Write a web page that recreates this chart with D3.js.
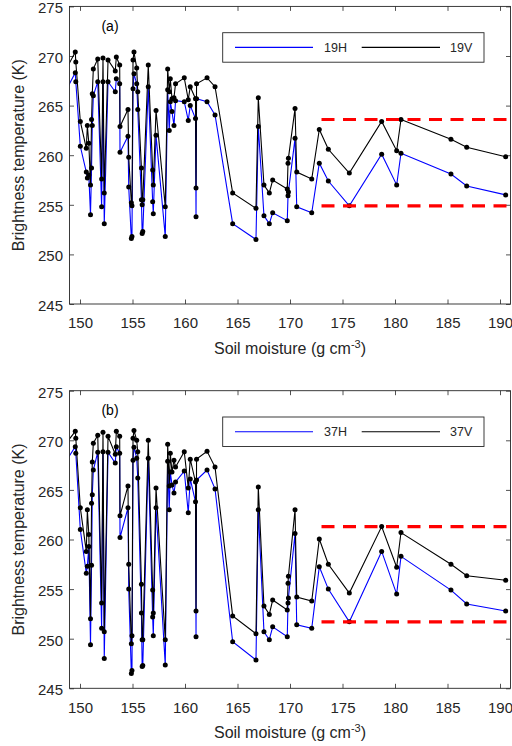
<!DOCTYPE html>
<html>
<head>
<meta charset="utf-8">
<script src="https://cdn.jsdelivr.net/npm/d3@7"></script>
<style>
  body { margin: 0; background: #fff; }
  svg { display: block; }
  text { font-family: "Liberation Sans", Arial, Helvetica, sans-serif; }
</style>
</head>
<body>
<svg id="chart" width="512" height="746"></svg>
<script>
// Soil moisture of each sample (sorted), shared by both frequency panels
const soilMoisture = [148.6, 149.55, 149.6, 150.03, 150.6, 150.7, 150.84, 151.0, 151.1, 151.17,
  151.27, 151.69, 152.06, 152.19, 152.31, 152.67, 153.36, 153.46, 153.78, 153.81,
  154.57, 154.64, 154.89, 154.95, 155.05, 155.14, 155.4, 155.5, 155.85, 155.92,
  155.98, 156.5, 156.92, 156.98, 157.24, 158.12, 158.35, 158.5, 158.6, 158.76,
  158.95, 159.1, 159.93, 160.31, 160.5, 161.0, 161.05, 161.1, 162.1, 162.86,
  164.54, 166.76, 166.98, 167.52, 168.03, 168.35, 169.74, 169.81, 169.85, 170.48,
  170.64, 172.07, 172.79, 173.65, 175.65, 178.73, 180.16, 180.57, 185.33, 186.83, 190.54];

// Brightness temperatures (K)
const tb19H = [266.4, 268.3, 267.4, 260.9, 258.3, 257.7, 258.0, 254.0, 258.7, 263.0,
  266.0, 267.4, 254.8, 267.4, 253.1, 267.4, 266.4, 267.7, 267.2, 260.3,
  261.9, 256.8, 251.6, 251.8, 266.7, 268.2, 267.2, 264.6, 255.5, 252.1,
  252.3, 266.9, 255.3, 254.1, 262.0, 251.8, 266.6, 262.5, 265.4, 264.4,
  263.0, 265.5, 265.4, 263.5, 265.0, 263.7, 253.8, 265.7, 265.4, 264.05,
  253.1, 251.5, 262.9, 253.9, 253.1, 254.2, 253.4, 255.9, 256.3, 261.7,
  254.8, 254.2, 259.2, 257.4, 254.9, 260.1, 257.0, 260.2, 258.1, 256.9, 256.0];
const tb19V = [268.5, 270.4, 269.4, 263.4, 260.7, 263.0, 261.2, 257.0, 263.6, 266.2,
  268.7, 269.7, 257.6, 269.8, 256.2, 269.6, 268.5, 269.9, 269.1, 262.9,
  264.6, 259.8, 255.2, 254.9, 269.6, 270.4, 268.8, 266.4, 258.7, 255.0,
  255.5, 269.1, 258.5, 257.0, 264.5, 254.8, 268.7, 266.4, 267.7, 265.7,
  265.8, 267.2, 267.8, 265.6, 266.9, 265.7, 256.7, 267.2, 267.8, 266.9,
  256.2, 254.65, 265.8, 257.0, 256.2, 257.5, 256.6, 259.2, 259.7, 264.7,
  258.3, 257.6, 262.6, 260.6, 258.2, 263.4, 260.45, 263.6, 261.6, 260.8, 259.85];
const tb37H = [267.8, 269.35, 268.7, 261.0, 256.6, 257.3, 259.3, 249.4, 257.4, 264.5,
  267.0, 268.8, 251.05, 268.85, 248.0, 268.8, 267.7, 269.35, 268.7, 260.2,
  263.2, 255.0, 246.5, 246.8, 268.0, 269.3, 268.2, 266.2, 252.6, 247.2,
  247.3, 268.2, 252.2, 250.3, 263.2, 247.35, 267.9, 263.0, 266.8, 265.5,
  264.7, 265.8, 266.9, 262.7, 266.1, 263.8, 250.2, 266.0, 267.0, 265.1,
  249.7, 247.85, 263.0, 250.7, 249.9, 251.2, 250.2, 253.6, 254.1, 260.6,
  251.4, 251.05, 257.25, 255.0, 251.7, 258.8, 254.5, 258.3, 254.9, 253.5, 252.8];
const tb37V = [269.6, 270.9, 270.2, 263.2, 258.8, 263.0, 260.5, 252.0, 263.65, 267.8,
  269.7, 270.5, 253.6, 270.8, 250.7, 270.4, 268.6, 270.9, 270.4, 262.4,
  265.4, 257.5, 249.5, 250.3, 270.2, 271.0, 270.0, 268.85, 255.5, 249.9,
  249.9, 270.0, 254.9, 252.6, 265.2, 249.9, 269.6, 265.4, 268.7, 266.8,
  268.0, 267.3, 268.85, 265.2, 268.1, 265.8, 252.8, 268.1, 268.9, 267.3,
  252.3, 250.5, 265.3, 253.3, 252.45, 253.9, 252.9, 255.6, 256.3, 263.0,
  254.2, 253.8, 260.05, 257.5, 254.6, 261.3, 257.2, 260.7, 257.5, 256.35, 255.9];

const xTicks = [150, 155, 160, 165, 170, 175, 180, 185, 190];
const yTicks = [245, 250, 255, 260, 265, 270, 275];
const panelTags = ["(a)", "(b)"];
const seriesNames = [["19H", "19V"], ["37H", "37V"]];
// Wet-sample envelope: samples taken into account, and where its lines begin
const envelopeSelect = 172.5;
const envelopeFrom = 173;

const svg = d3.select("#chart");
const axisColor = "#262626";
const hColor = "#0000ff";
const vColor = "#000000";

const x = d3.scaleLinear().domain([149, 191]).range([69.5, 510.5]);

const panels = [
  { tag: panelTags[0], H: tb19H, V: tb19V, names: seriesNames[0], top: 6.4, bottom: 304 },
  { tag: panelTags[1], H: tb37H, V: tb37V, names: seriesNames[1], top: 390.7, bottom: 688.3 }
];

panels.forEach((p, pi) => {
  const y = d3.scaleLinear().domain([245, 275]).range([p.bottom, p.top]);
  const [x0, x1] = x.range();
  const g = svg.append("g");

  const clipId = "clip" + pi;
  svg.append("clipPath").attr("id", clipId)
    .append("rect").attr("x", x0).attr("y", p.top).attr("width", x1 - x0).attr("height", p.bottom - p.top);

  // axes with inward ticks on all four sides
  const tickLen = 4.5;
  const axB = g.append("g").attr("transform", `translate(0,${p.bottom})`)
    .call(d3.axisBottom(x).tickValues(xTicks).tickSizeInner(-tickLen).tickSizeOuter(0).tickPadding(13.6));
  const axT = g.append("g").attr("transform", `translate(0,${p.top})`)
    .call(d3.axisTop(x).tickValues(xTicks).tickSizeInner(-tickLen).tickSizeOuter(0).tickFormat(""));
  const axL = g.append("g").attr("transform", `translate(${x0},0)`)
    .call(d3.axisLeft(y).tickValues(yTicks).tickSizeInner(-tickLen).tickSizeOuter(0).tickPadding(6.5));
  const axR = g.append("g").attr("transform", `translate(${x1},0)`)
    .call(d3.axisRight(y).tickValues(yTicks).tickSizeInner(-tickLen).tickSizeOuter(0).tickFormat(""));
  [axB, axT, axL, axR].forEach(a => {
    a.select(".domain").remove();
    a.selectAll("line").attr("stroke", axisColor).attr("stroke-width", 0.8);
    a.selectAll("text").attr("fill", axisColor).style("font-size", "15px")
      .style("font-family", '"Liberation Sans", Arial, Helvetica, sans-serif');
  });
  axL.selectAll("text").attr("dy", "0.42em");

  // data lines and markers
  const plot = g.append("g").attr("clip-path", `url(#${clipId})`);
  const lineOf = vals => d3.line().x((d, i) => x(soilMoisture[i])).y(d => y(d))(vals);
  plot.append("path").attr("d", lineOf(p.H)).attr("fill", "none")
    .attr("stroke", hColor).attr("stroke-width", 1.1);
  plot.append("path").attr("d", lineOf(p.V)).attr("fill", "none")
    .attr("stroke", vColor).attr("stroke-width", 1.1);
  [p.H, p.V].forEach(vals => {
    plot.append("g").selectAll("circle").data(vals).join("circle")
      .attr("cx", (d, i) => x(soilMoisture[i]))
      .attr("cy", d => y(d))
      .attr("r", 2.5)
      .attr("fill", "#000");
  });

  // envelope of the wettest samples
  const iStart = soilMoisture.findIndex(s => s >= envelopeSelect);
  const upper = d3.max(p.V.slice(iStart));
  const lower = d3.min(p.H.slice(iStart));
  [upper, lower].forEach(v => {
    plot.append("line")
      .attr("x1", x(envelopeFrom)).attr("x2", x1)
      .attr("y1", y(v)).attr("y2", y(v))
      .attr("stroke", "#ff0000").attr("stroke-width", 3.2)
      .attr("stroke-dasharray", "13,8.5");
  });

  // frame
  g.append("rect").attr("x", x0).attr("y", p.top).attr("width", x1 - x0).attr("height", p.bottom - p.top)
    .attr("fill", "none").attr("stroke", axisColor).attr("stroke-width", 0.9);

  // panel tag
  g.append("text").attr("x", 110).attr("y", p.top + 24.2).attr("text-anchor", "middle")
    .attr("fill", "#000").style("font-size", "14px").text(p.tag);

  // legend
  const lg = g.append("g").attr("transform", `translate(222.7,${p.top + 26.3})`);
  lg.append("rect").attr("width", 261.3).attr("height", 29.5)
    .attr("fill", "#fff").attr("stroke", axisColor).attr("stroke-width", 0.9);
  const ly = 14.7;
  lg.append("line").attr("x1", 12.3).attr("x2", 90.3).attr("y1", ly).attr("y2", ly)
    .attr("stroke", hColor).attr("stroke-width", 1.1);
  lg.append("text").attr("x", 101.3).attr("y", ly + 4.5).attr("fill", axisColor)
    .style("font-size", "12.5px").text(p.names[0]);
  lg.append("line").attr("x1", 139).attr("x2", 217.3).attr("y1", ly).attr("y2", ly)
    .attr("stroke", vColor).attr("stroke-width", 1.1);
  lg.append("text").attr("x", 227.3).attr("y", ly + 4.5).attr("fill", axisColor)
    .style("font-size", "12.5px").text(p.names[1]);

  // axis titles
  g.append("text")
    .attr("transform", `translate(24,${(p.top + p.bottom) / 2}) rotate(-90)`)
    .attr("text-anchor", "middle").attr("fill", axisColor).style("font-size", "16px")
    .text("Brightness temperature (K)");
  const xl = g.append("text").attr("x", (x0 + x1) / 2).attr("y", p.bottom + 49.5)
    .attr("text-anchor", "middle").attr("fill", axisColor).style("font-size", "16px");
  xl.append("tspan").text("Soil moisture (g cm");
  xl.append("tspan").attr("dy", -6).style("font-size", "11px").text("-3");
  xl.append("tspan").attr("dy", 6).text(")");
});
</script>
</body>
</html>
